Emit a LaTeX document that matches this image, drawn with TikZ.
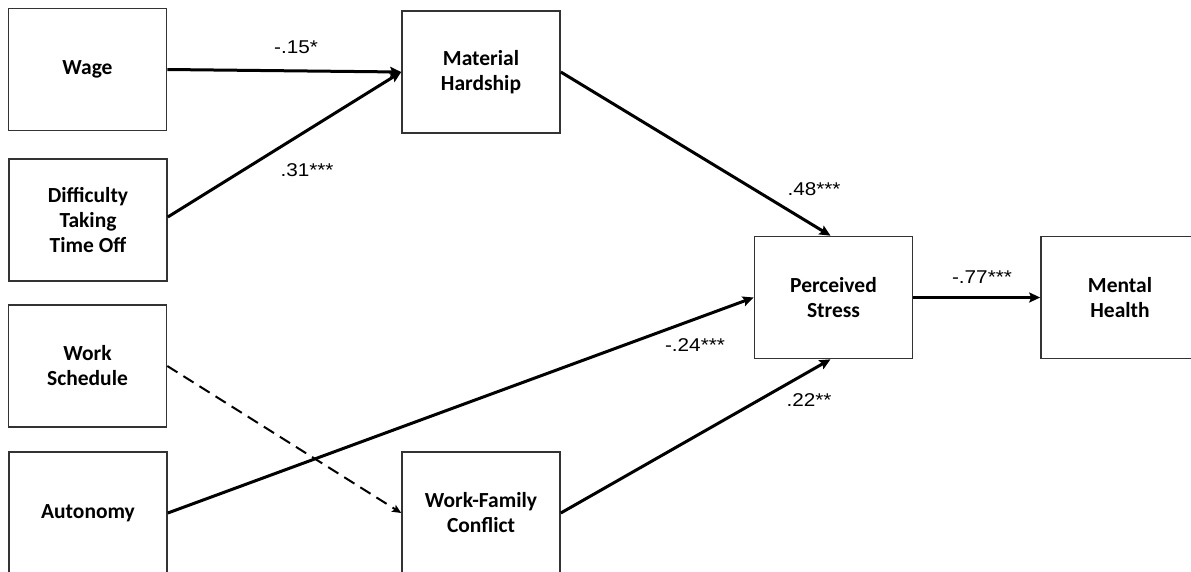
\documentclass[tikz,border=0pt]{standalone}
\usepackage{fontspec}
\setmainfont{Carlito}
\newfontfamily\coeffont[FakeStretch=1.12]{Liberation Sans}
\usetikzlibrary{arrows.meta}
\tikzset{
  var/.style={draw=black!80, line width=1.6pt, fill=white, minimum width=158pt,
    minimum height=122pt, inner sep=0pt, align=center,
    font=\fontsize{21.5}{25}\selectfont\bfseries},
  path/.style={line width=3pt, -{Stealth[length=11pt,width=10pt,inset=2pt]}},
  coef/.style={inner sep=0pt, font=\coeffont\fontsize{18.5}{20}\selectfont}
}
\begin{document}
\begin{tikzpicture}[x=1pt,y=-1pt]
\useasboundingbox (0,0) rectangle (1191,571);
\clip (0,0) rectangle (1191,571);
% exogenous variables
\node[var] (wage)  at (87.5,69.5)  {Wage};
\node[var] (diff)  at (88,220)     {Difficulty\\Taking\\Time Off};
\node[var] (sched) at (87.5,366)   {Work\\Schedule};
\node[var] (auto)  at (88,513)     {Autonomy};
% mediators and outcome
\node[var] (hard)  at (481,72)     {Material\\Hardship};
\node[var] (wfc)   at (481,513)    {Work-Family\\Conflict};
\node[var] (stress) at (833.5,297.5) {Perceived\\Stress};
\node[var] (mental) at (1120,297.5) {Mental\\Health};
% structural paths
\draw[path] (wage.east) -- (hard.west);
\draw[path] ([yshift=3pt]diff.east) -- (hard.west);
\draw[path] (hard.east) -- ([xshift=-3pt]stress.north);
\draw[path] (auto.east) -- (stress.west);
\draw[path, line width=2pt, dash pattern=on 12pt off 7pt,
  -{Stealth[length=9pt,width=8pt,inset=2pt]}] (sched.east) -- (wfc.west);
\draw[path] (wfc.east) -- ([xshift=-3pt]stress.south);
\draw[path] (stress.east) -- (mental.west);
% path coefficients
\node[coef] (c1) at (296,47)  {-.15*};
\node[coef] (c2) at (307,170) {.31***};
\node[coef] (c3) at (814,189) {.48***};
\node[coef] (c4) at (695,345) {-.24***};
\node[coef] (c5) at (809,400) {.22**};
\node[coef] (c6) at (982,277) {-.77***};
\end{tikzpicture}
\end{document}
